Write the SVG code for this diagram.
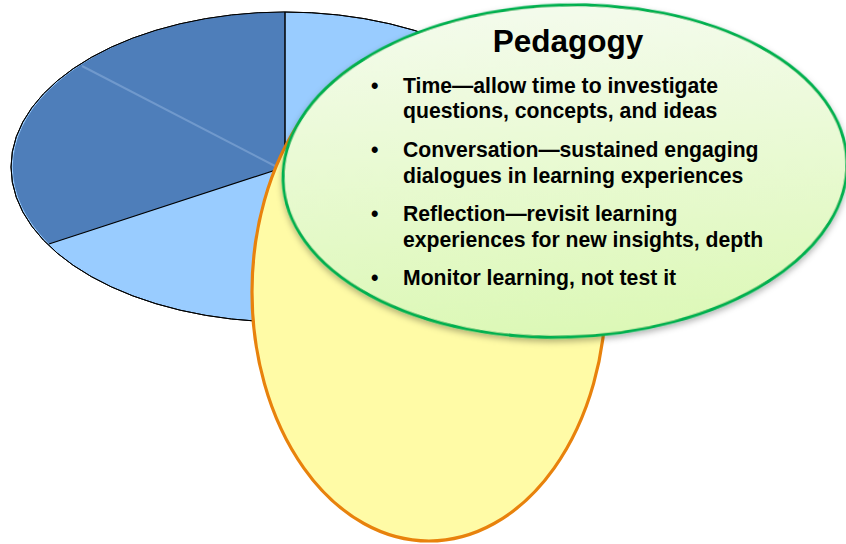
<svg xmlns="http://www.w3.org/2000/svg" width="846" height="544" viewBox="0 0 846 544">
<defs>
<linearGradient id="greenFill" x1="0" y1="0" x2="0" y2="1">
<stop offset="0" stop-color="#F4FBEC"/>
<stop offset="1" stop-color="#DCF8B6"/>
</linearGradient>
<filter id="shadow" x="-10%" y="-10%" width="120%" height="130%">
<feDropShadow dx="0" dy="3" stdDeviation="3" flood-color="#000" flood-opacity="0.3"/>
</filter>
<style>
.txt{font-family:"Liberation Sans",Arial,sans-serif;font-weight:bold;fill:#000;}
.item{font-size:21.2px;}
.title{font-size:31.5px;}
</style>
</defs>
<rect width="846" height="544" fill="#fff"/>
<g id="pie">
<ellipse cx="285" cy="167" rx="274" ry="155" fill="#99CCFF" stroke="#000" stroke-width="1"/>
<path d="M285,167 L285,12 A274,155 0 0 0 49,244 Z" fill="#4E7EBA"/>
<line x1="82" y1="66" x2="275" y2="166" stroke="#7099CC" stroke-width="2"/>
<ellipse cx="285" cy="167" rx="274" ry="155" fill="none" stroke="#000" stroke-width="1"/>
<line x1="285" y1="167" x2="285" y2="12" stroke="#000" stroke-width="1.5"/>
<line x1="285" y1="167" x2="49" y2="244" stroke="#000" stroke-width="1.2"/>
</g>
<g id="yellow-ellipse">
<ellipse cx="429" cy="292" rx="177" ry="249" fill="#FFFBA6" stroke="#E8820C" stroke-width="3.2"/>
</g>
<g id="pedagogy">
<ellipse cx="565" cy="171" rx="282" ry="166" transform="rotate(-2 565 171)" fill="url(#greenFill)" stroke="#00B050" stroke-width="3" filter="url(#shadow)"/>
<text class="txt title" x="568" y="52" text-anchor="middle">Pedagogy</text>
<g class="txt item">
<text x="371" y="93">•</text>
<text x="403" y="93">Time—allow time to investigate</text>
<text x="403" y="118">questions, concepts, and ideas</text>
<text x="371" y="157">•</text>
<text x="403" y="157">Conversation—sustained engaging</text>
<text x="403" y="183">dialogues in learning experiences</text>
<text x="371" y="221">•</text>
<text x="403" y="221">Reflection—revisit learning</text>
<text x="403" y="247">experiences for new insights, depth</text>
<text x="371" y="285">•</text>
<text x="403" y="285">Monitor learning, not test it</text>
</g>
</g>
<g id="connectors"/>
</svg>
